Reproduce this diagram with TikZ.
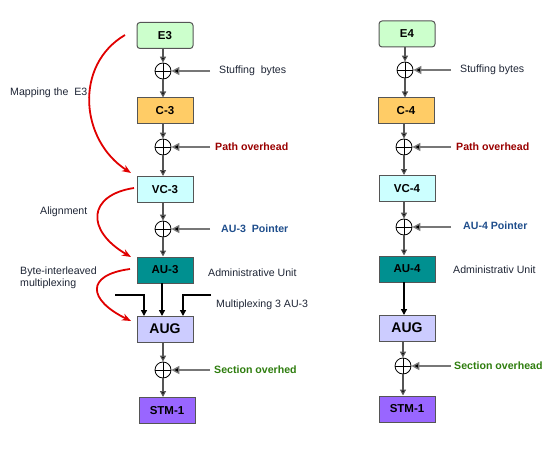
\documentclass[tikz,border=0pt]{standalone}
\usepackage{fontspec}
\setmainfont{Liberation Sans}
\usetikzlibrary{arrows.meta,calc}
\definecolor{eg}{HTML}{CCFFCC}
\definecolor{co}{HTML}{FFCC66}
\definecolor{vc}{HTML}{CCFFFF}
\definecolor{au}{HTML}{009090}
\definecolor{ag}{HTML}{CCCCFF}
\definecolor{st}{HTML}{9966FF}
\definecolor{bd}{HTML}{555555}
\definecolor{pr}{HTML}{990000}
\definecolor{pb}{HTML}{1F4E8C}
\definecolor{sg}{HTML}{2E7D0E}
\definecolor{tx}{HTML}{1E2535}
\definecolor{rd}{HTML}{E00000}
\tikzset{
  box/.style={draw=bd,line width=1pt,minimum width=56pt,minimum height=26pt,inner sep=0pt,
    font=\fontsize{11.5}{13}\selectfont\bfseries,text=black},
  rbox/.style={box,rounded corners=3pt},
  opl/.style={circle,draw=black,line width=0.8pt,minimum size=16pt,inner sep=0pt,
    path picture={\draw[black,line width=0.8pt] (path picture bounding box.north) -- (path picture bounding box.south)
      (path picture bounding box.west) -- (path picture bounding box.east);}},
  varr/.style={draw=bd,line width=1.2pt,-{Triangle[length=6pt,width=6pt,fill=black]}},
  harr/.style={draw=bd!80,line width=1.4pt,-{Triangle[length=8pt,width=8pt,fill=black]}},
  marr/.style={draw=black,line width=1.4pt,-{Triangle[length=6pt,width=6pt]}},
  rarr/.style={draw=rd,line width=1.8pt,-{Stealth[length=9pt,width=7pt]}},
  lbl/.style={anchor=west,inner sep=0pt,font=\fontsize{10.6}{12.5}\selectfont,text=tx},
  blbl/.style={anchor=west,inner sep=0pt,font=\fontsize{10.6}{12.5}\selectfont\bfseries},
}
\begin{document}
\begin{tikzpicture}[x=1pt,y=-1pt]
\useasboundingbox (0,0) rectangle (553,449);
% left column
\node[rbox,fill=eg] (e3) at (165,35.5) {E3};
\node[opl] (c1) at (163,71) {};
\node[box,fill=co] (c3) at (165,111) {C-3};
\node[opl] (c2) at (163,147) {};
\node[box,fill=vc] (vc3) at (165,189.5) {VC-3};
\node[opl] (c3p) at (163,229) {};
\node[box,fill=au] (au3) at (165,270) {AU-3};
\node[box,fill=ag,font=\fontsize{14}{16}\selectfont\bfseries] (aug3) at (165,329) {AUG};
\node[opl] (c4) at (163,370) {};
\node[box,fill=st] (stm3) at (167,410.5) {STM-1};
% labels left
\node[lbl] (l1) at (219,71) {Stuffing\ \ bytes};
\node[blbl,text=pr] (l2) at (215,147) {Path overhead};
\node[blbl,text=pb] (l3) at (221,229) {AU-3\ \ Pointer};
\node[lbl] (l4) at (208,273) {Administrative Unit};
\node[lbl] (l5) at (216,305) {Multiplexing 3 AU-3};
\node[blbl,text=sg] (l6) at (214,370) {Section overhed};
\node[lbl] (m1) at (10,93) {Mapping the\ \ E3};
\node[lbl] (m2) at (40,212) {Alignment};
\node[lbl,align=left] (m3) at (20,278) {Byte-interleaved\\multiplexing};
% arrows left
\draw[varr] (c1 |- e3.south) -- (c1.north);
\draw[varr] (c1.south) -- (c1 |- c3.north);
\draw[varr] (c2 |- c3.south) -- (c2.north);
\draw[varr] (c2.south) -- (c2 |- vc3.north);
\draw[varr] (c3p |- vc3.south) -- (c3p.north);
\draw[varr] (c3p.south) -- (c3p |- au3.north);
\draw[varr] (c4 |- aug3.south) -- (c4.north);
\draw[varr] (c4.south) -- (c4 |- stm3.north);
\draw[harr] (210,71) -- (c1.east);
\draw[harr] (210,147) -- (c2.east);
\draw[harr] (210,229) -- (c3p.east);
\draw[harr] (210,370) -- (c4.east);
\coordinate (ml) at (115,295);
\coordinate (mr) at (211,295);
\draw[marr] (162,283) -- (162,316);
\draw[marr] (ml) -- (144,295) -- (144,316);
\draw[marr] (mr) -- (183,295) -- (183,316);
% red arrows
\draw[rarr] (125,35) .. controls (74,65) and (80,140) .. (131,173);
\draw[rarr] (134,188) .. controls (88,195) and (85,230) .. (131,257);
\draw[rarr] (130,269) .. controls (85,275) and (88,300) .. (131,321);
% right column
\node[rbox,fill=eg] (e4) at (407,34) {E4};
\node[opl] (d1) at (405,70) {};
\node[box,fill=co] (c4b) at (406,111) {C-4};
\node[opl] (d2) at (404,147) {};
\node[box,fill=vc] (vc4) at (407,188.5) {VC-4};
\node[opl] (d3) at (404,227) {};
\node[box,fill=au] (au4) at (407,269) {AU-4};
\node[box,fill=ag,font=\fontsize{14}{16}\selectfont\bfseries] (aug4) at (407,328) {AUG};
\node[opl] (d4) at (403,366) {};
\node[box,fill=st] (stm4) at (407,409) {STM-1};
\node[lbl] (r1) at (460,70) {Stuffing bytes};
\node[blbl,text=pr] (r2) at (456,147) {Path overhead};
\node[blbl,text=pb] (r3) at (463,226) {AU-4 Pointer};
\node[lbl] (r4) at (453,270) {Administrativ Unit};
\node[blbl,text=sg] (r5) at (454,366) {Section overhead};
\draw[varr] (d1 |- e4.south) -- (d1.north);
\draw[varr] (d1.south) -- (d1 |- c4b.north);
\draw[varr] (d2 |- c4b.south) -- (d2.north);
\draw[varr] (d2.south) -- (d2 |- vc4.north);
\draw[varr] (d3 |- vc4.south) -- (d3.north);
\draw[varr] (d3.south) -- (d3 |- au4.north);
\draw[marr] (404,282) -- (404,315);
\draw[varr] (d4 |- aug4.south) -- (d4.north);
\draw[varr] (d4.south) -- (d4 |- stm4.north);
\draw[harr] (451,70) -- (d1.east);
\draw[harr] (451,147) -- (d2.east);
\draw[harr] (451,227) -- (d3.east);
\draw[harr] (451,366) -- (d4.east);
\end{tikzpicture}
\end{document}
